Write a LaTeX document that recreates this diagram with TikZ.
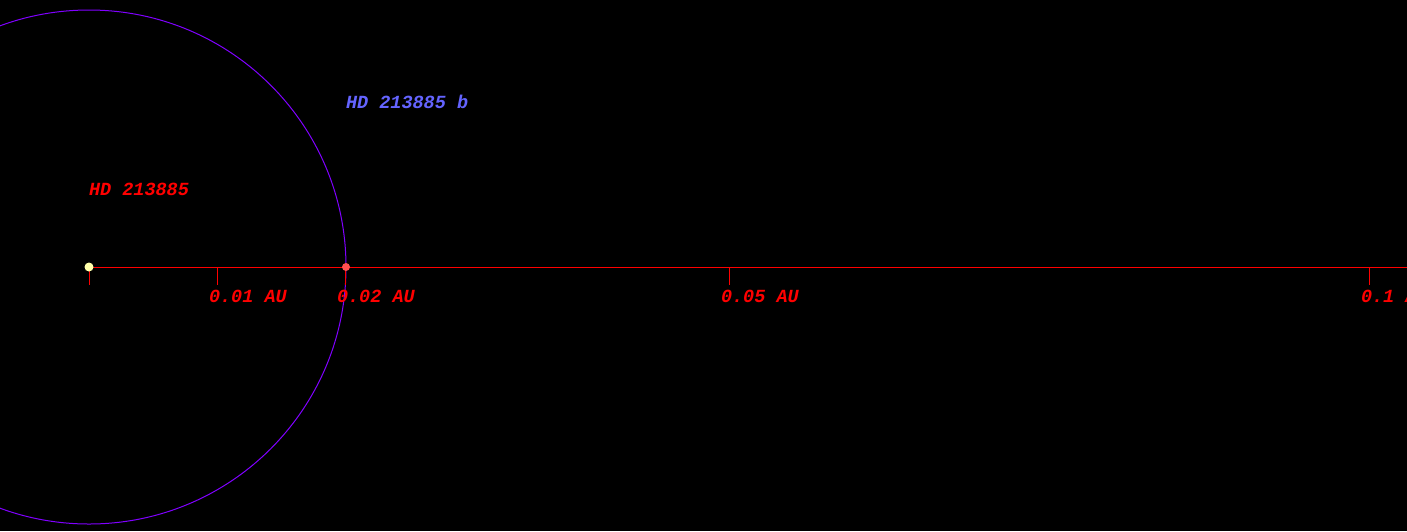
\documentclass[tikz,border=0pt]{standalone}
\usepackage{fontspec}
\newfontfamily\orbitfont{Liberation Mono}
\definecolor{axisred}{RGB}{255,0,0}
\definecolor{orbitviolet}{RGB}{128,0,255}
\definecolor{planetblue}{RGB}{100,100,255}
\definecolor{starcream}{RGB}{255,255,170}
\definecolor{planetred}{RGB}{255,80,80}
\tikzset{
    x=1pt, y=-1pt,
    every node/.style = {
        inner sep=0pt,
        outer sep=0pt,
        font=\orbitfont\bfseries\itshape\fontsize{18.5}{20}\selectfont
    },
    axisline/.style = {draw=axisred, line width=1pt},
    orbitline/.style = {draw=orbitviolet, line width=1pt},
    hoststar/.style = {circle, fill=starcream, minimum size=9pt},
    planetdot/.style = {circle, fill=planetred, minimum size=8pt},
    ticklabel/.style = {anchor=base west, text=axisred},
    starlabel/.style = {anchor=base west, text=axisred},
    planetlabel/.style = {anchor=base west, text=planetblue}
}

\begin{document}
\begin{tikzpicture}

  %% background
  \useasboundingbox [fill=black] (0,0) rectangle (1407,531);

  %% star and axis
  \coordinate (centre) at (89,267);
  \coordinate (axisend) at (1407,267);
  \draw [axisline] (centre) -- (axisend);
  \draw [axisline] (centre) -- ++(0,18);

  %% orbit
  \draw [orbitline] (centre) circle [radius=257pt];

  %% ticks
  \foreach \x/\lab/\nm in {217/0.01 AU/a, 345/0.02 AU/b, 729/0.05 AU/c, 1369/0.1 AU/d} {
    \coordinate (tick\nm) at (\x,267);
    \draw [axisline] (tick\nm) -- ++(0,18);
    \node [ticklabel] (lab\nm) at (\x-8,302) {\lab};
  }

  %% bodies
  \node [hoststar] (star) at (centre) {};
  \node [planetdot] (planet) at (346,267) {};

  %% names
  \node [starlabel] (starname) at (89,195) {HD 213885};
  \node [planetlabel] (planetname) at (346,108) {HD 213885 b};

\end{tikzpicture}
\end{document}
